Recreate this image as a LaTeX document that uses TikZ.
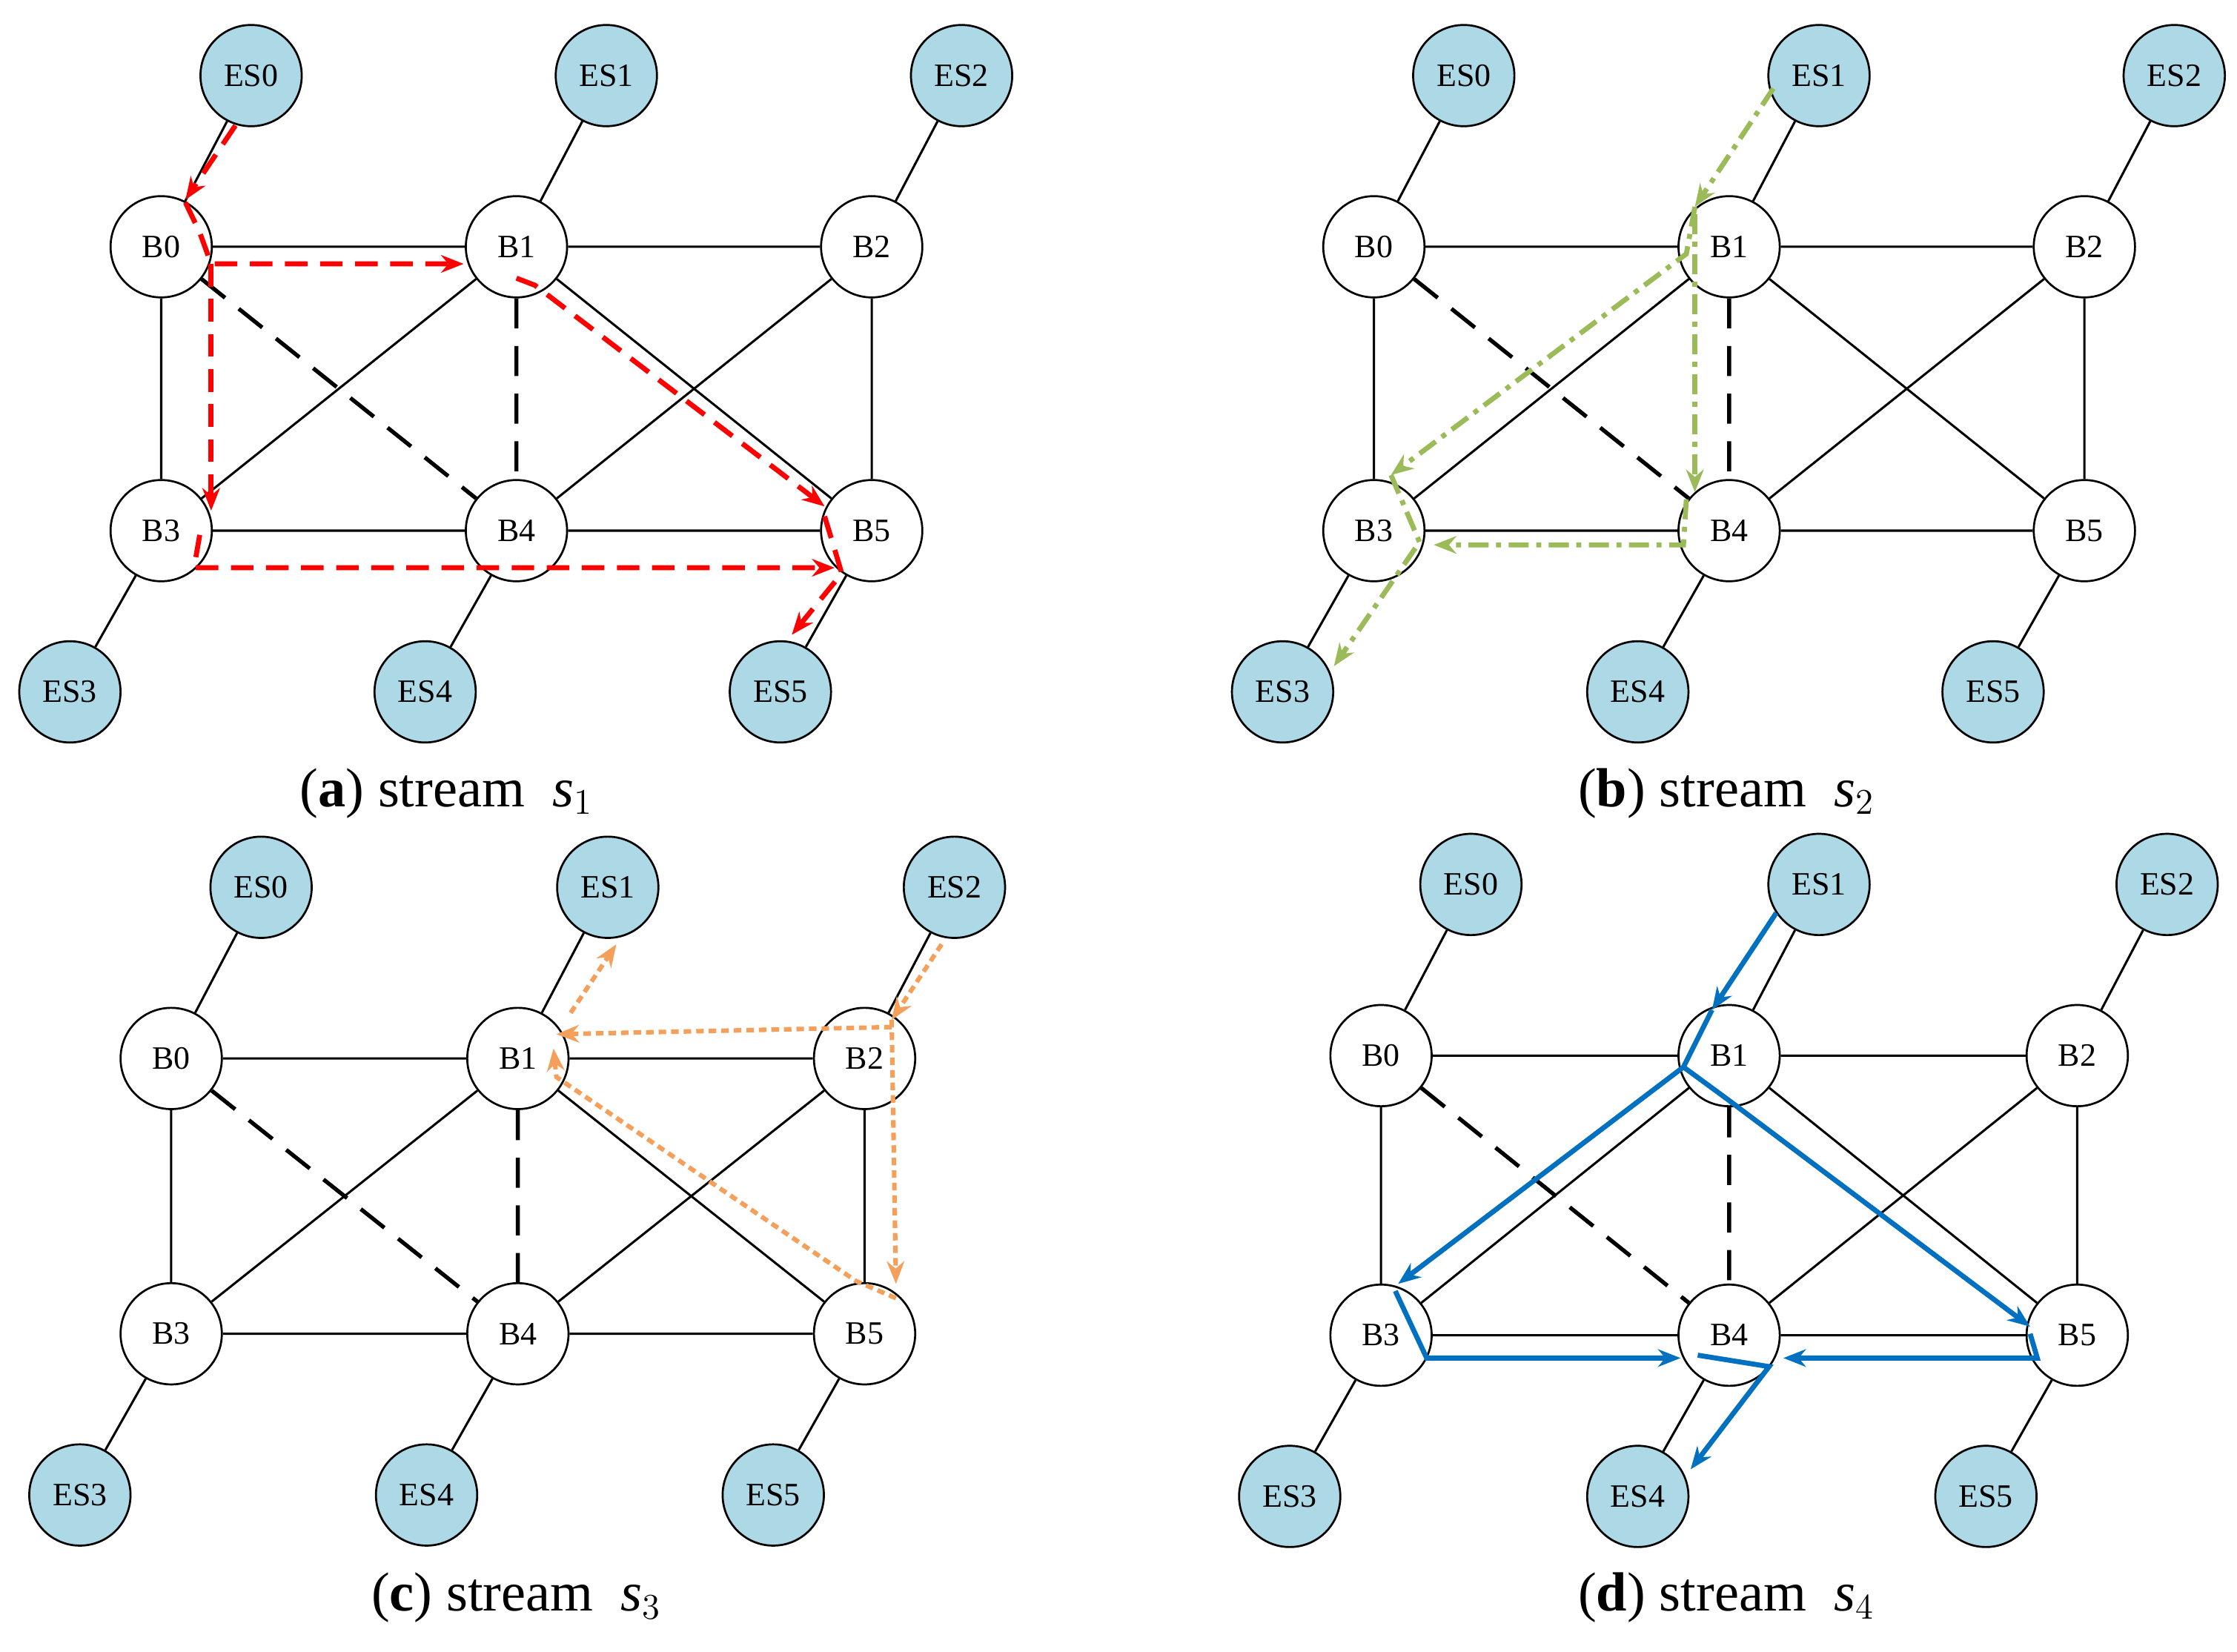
\documentclass[tikz,border=0pt]{standalone}
\usepackage{fontspec}
\setmainfont{Liberation Serif}
\usetikzlibrary{arrows.meta}
\definecolor{esc}{HTML}{ADD8E6}
\definecolor{gc}{RGB}{155,187,89}
\definecolor{oc}{RGB}{245,160,90}
\definecolor{bc}{RGB}{0,112,192}
\begin{document}
\begin{tikzpicture}[x=0.02cm,y=-0.02cm,
 bn/.style={circle,draw,thick,fill=white,minimum size=1.42cm,inner sep=0pt,font=\fontsize{13}{13}\selectfont},
 es/.style={bn,fill=esc},
 ln/.style={line width=0.9pt},
 dl/.style={line width=1.6pt,dash pattern=on 12pt off 7pt},
 captxt/.style={font=\fontsize{22}{22}\selectfont},
 pr/.style={draw=red,line width=2pt,dash pattern=on 9pt off 5pt,-{Stealth[length=9pt,width=7pt]}},
 pg/.style={draw=gc,line width=2pt,dash pattern=on 8pt off 3pt on 2pt off 3pt,-{Stealth[length=9pt,width=7pt]}},
 po/.style={draw=oc,line width=1.8pt,dash pattern=on 3pt off 2pt,-{Stealth[length=9pt,width=7pt]}},
 pb/.style={draw=bc,line width=2pt,-{Stealth[length=9pt,width=7pt]}}]
\useasboundingbox (0,0) rectangle (1568,1158);
\newcommand\mypanel[5]{%
 \node[bn] (#1B0) at (#2,#3) {B0};
 \node[bn] (#1B1) at ({#2+#4},#3) {B1};
 \node[bn] (#1B2) at ({#2+2*#4},#3) {B2};
 \node[bn] (#1B3) at (#2,{#3+#5}) {B3};
 \node[bn] (#1B4) at ({#2+#4},{#3+#5}) {B4};
 \node[bn] (#1B5) at ({#2+2*#4},{#3+#5}) {B5};
 \node[es] (#1E0) at ({#2+63},{#3-120}) {ES0};
 \node[es] (#1E1) at ({#2+#4+63},{#3-120}) {ES1};
 \node[es] (#1E2) at ({#2+2*#4+63},{#3-120}) {ES2};
 \node[es] (#1E3) at ({#2-64},{#3+#5+113}) {ES3};
 \node[es] (#1E4) at ({#2+#4-64},{#3+#5+113}) {ES4};
 \node[es] (#1E5) at ({#2+2*#4-64},{#3+#5+113}) {ES5};
 \draw[ln] (#1B0)--(#1B1) (#1B1)--(#1B2) (#1B0)--(#1B3) (#1B2)--(#1B5) (#1B3)--(#1B4) (#1B4)--(#1B5)
   (#1B1)--(#1B3) (#1B1)--(#1B5) (#1B2)--(#1B4)
   (#1E0)--(#1B0) (#1E1)--(#1B1) (#1E2)--(#1B2) (#1E3)--(#1B3) (#1E4)--(#1B4) (#1E5)--(#1B5);
 \draw[dl] (#1B0)--(#1B4) (#1B1)--(#1B4);
}
\mypanel{a}{113}{173}{249}{199}
\mypanel{b}{963}{173}{249}{199}
\mypanel{c}{120}{742}{243}{193}
\mypanel{d}{968}{740}{244}{196}
% (a)
\draw[pr] (165,88)--(130,140);
\draw[pr] (130,142)--(140,163)--(148,185)--(325,185);
\draw[pr] (148,185)--(148,358);
\draw[pr] (362,195)--(375,200)--(578,355);
\draw[pr] (140,375)--(136,398)--(585,398);
\draw[pr] (578,362)--(585,385)--(590,402)--(555,445);
% (b)
\draw[pg] (1243,62)--(1188,145);
\draw[pg] (1188,145)--(1182,178)--(975,333);
\draw[pg] (1188,150)--(1188,345);
\draw[pg] (1182,350)--(1180,382)--(1005,382);
\draw[pg] (975,333)--(995,380)--(935,467);
% (c)
\draw[po] (660,662)--(625,715);
\draw[po] (625,720)--(390,725);
\draw[po] (625,715)--(628,900);
\draw[po] (628,910)--(600,898)--(390,755)--(388,735);
\draw[po] (400,710)--(432,662);
% (d)
\draw[pb] (1245,640)--(1200,708);
\draw[pb] (1200,708)--(1180,748)--(980,900);
\draw[pb] (1180,748)--(1210,770)--(1423,930);
\draw[pb] (978,905)--(1000,952)--(1178,952);
\draw[pb] (1423,935)--(1428,952)--(1250,952);
\draw[pb] (1190,950)--(1240,958)--(1185,1030);
% captions
\node[captxt] (ca) at (313,556) {(\textbf{a}) stream~~\textit{s}$_1$};
\node[captxt] (cb) at (1210,556) {(\textbf{b}) stream~~\textit{s}$_2$};
\node[captxt] (cc) at (362,1120) {(\textbf{c}) stream~~\textit{s}$_3$};
\node[captxt] (cd) at (1210,1120) {(\textbf{d}) stream~~\textit{s}$_4$};
\end{tikzpicture}
\end{document}
